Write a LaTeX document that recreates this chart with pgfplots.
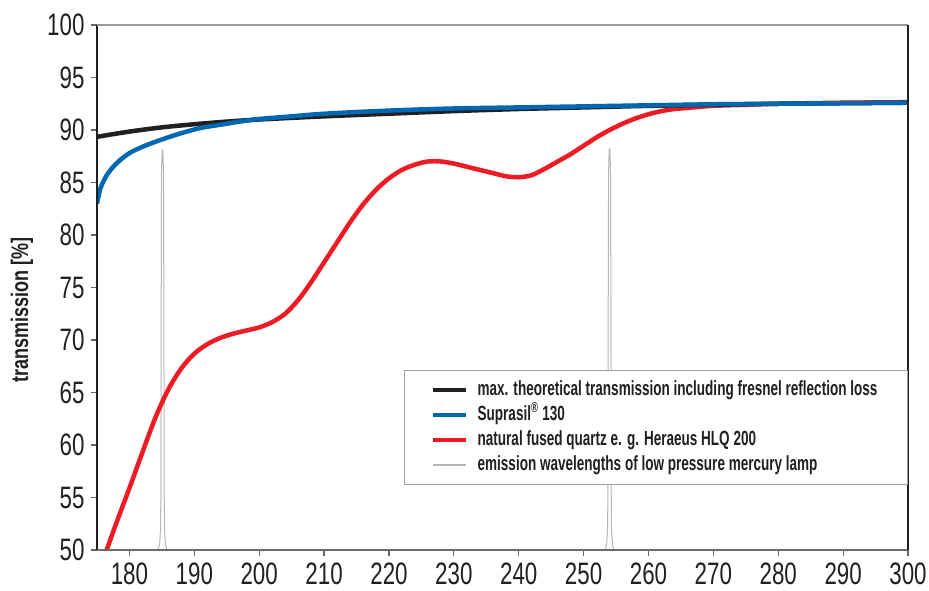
\documentclass[border=0pt]{standalone}
\usepackage{fontspec}
\setmainfont{Liberation Sans}[FakeStretch=0.66]
\newfontfamily\tickfont{Liberation Sans}[FakeStretch=0.72]
\newfontfamily\labelfont{Liberation Sans}[FakeStretch=0.75]
\usepackage{pgfplots}
\pgfplotsset{compat=1.18}

\definecolor{cblack}{HTML}{231F20}
\definecolor{cblue}{HTML}{0067B1}
\definecolor{cred}{HTML}{ED1C24}
\definecolor{cgray}{HTML}{B5B5B8}

\begin{document}
\begin{tikzpicture}
\begin{axis}[
  scale only axis,
  width=811pt, height=525pt,
  xmin=175, xmax=300, ymin=50, ymax=100,
  xtick={180,190,...,300},
  ytick={50,55,...,100},
  clip mode=individual,
  axis line style={draw=none},
  tick align=outside,
  xtick pos=left, ytick pos=left,
  major tick length=6pt,
  tick style={color=gray!80!black, line width=1.2pt},
  /pgf/number format/assume math mode=true,
  ticklabel style={font=\tickfont\fontsize{31}{31}\selectfont, text=cblack},
  yticklabel style={xshift=-3pt},
  xticklabel style={yshift=-3pt},
  ylabel={transmission [\%]},
  ylabel style={at={(axis description cs:-0.0925,0.457)}, anchor=center, rotate=0,
    font=\labelfont\bfseries\fontsize{24}{24}\selectfont, text=cblack},
  legend cell align=left,
  legend style={at={(1,0.343)}, anchor=north east, draw=gray!75, line width=1.2pt,
    fill=white, font=\bfseries\fontsize{20.5}{20.5}\selectfont, text=cblack,
    inner xsep=27pt, inner ysep=7pt, row sep=0pt, column sep=6pt,
    nodes={text height=14pt, text depth=4pt, inner ysep=3.5pt, inner xsep=3pt}},
  legend image code/.code={\draw[#1] (0pt,0pt) -- (33pt,0pt);},
]
% emission lines of the mercury lamp
\addplot[cgray, line width=1pt, forget plot] coordinates {
  (184.4,50) (184.65,50.5) (184.8,52) (184.85,56) (184.88,70) (184.95,86)
  (185.05,88.1) (185.15,88.1) (185.25,86) (185.32,70) (185.35,56) (185.4,52)
  (185.55,50.5) (185.8,50)};
\addplot[cgray, line width=1pt, forget plot] coordinates {
  (253.3,50) (253.55,50.5) (253.7,52) (253.75,56) (253.78,70) (253.85,86)
  (253.95,88.2) (254.05,88.2) (254.15,86) (254.22,70) (254.25,56) (254.3,52)
  (254.45,50.5) (254.7,50)};
% natural fused quartz
\addplot[cred, line width=4.5pt, smooth, forget plot] coordinates {
  (176.2,49.5) (178,52.6) (180,55.9) (182,59.3) (184,62.6) (186,65.3)
  (188,67.3) (190,68.7) (192,69.6) (194,70.2) (196,70.6) (198,70.9)
  (200,71.2) (202,71.7) (204,72.5) (206,73.8) (208,75.5) (210,77.4)
  (212,79.3) (214,81.2) (216,82.9) (218,84.3) (220,85.4) (222,86.2)
  (224,86.7) (226,87.0) (228,87.0) (230,86.8) (232,86.5) (234,86.2)
  (236,85.9) (238,85.6) (240,85.5) (242,85.7) (244,86.3) (246,87.0)
  (248,87.7) (250,88.5) (252,89.3) (254,90.0) (256,90.6) (258,91.1)
  (260,91.5) (262,91.8) (264,92.0) (266,92.1) (270,92.3) (275,92.4)
  (280,92.5) (290,92.6) (300,92.65)};
% max. theoretical transmission
\addplot[cblack, line width=4.5pt, smooth, forget plot] coordinates {
  (175,89.35) (180,89.85) (185,90.25) (190,90.55) (195,90.8) (200,91.0)
  (210,91.3) (220,91.55) (230,91.8) (240,92.0) (250,92.15) (260,92.3)
  (270,92.4) (280,92.5) (290,92.55) (300,92.6)};
% Suprasil 130
\addplot[cblue, line width=4.5pt, smooth, forget plot] coordinates {
  (175,83.0) (175.5,84.4) (176,85.1) (176.5,85.7) (177.5,86.5) (178.5,87.1)
  (180,87.8) (182,88.4) (185,89.1) (188,89.7) (191,90.2) (194,90.5)
  (197,90.8) (200,91.05) (205,91.3) (210,91.55) (220,91.85) (230,92.05)
  (240,92.15) (250,92.25) (260,92.35) (270,92.45) (280,92.5) (290,92.55)
  (300,92.6)};

\addlegendimage{cblack, line width=4.5pt}
\addlegendentry{max. theoretical transmission including fresnel reflection loss}
\addlegendimage{cblue, line width=4.5pt}
\addlegendentry{Suprasil\textsuperscript{®} 130}
\addlegendimage{cred, line width=4.5pt}
\addlegendentry{natural fused quartz e. g. Heraeus HLQ 200}
\addlegendimage{cgray, line width=1.2pt}
\addlegendentry{emission wavelengths of low pressure mercury lamp}

% frame
\draw[cblack, line width=1.5pt] (rel axis cs:0,0) -- (rel axis cs:0,1);
\draw[gray!85!black, line width=1.5pt] (rel axis cs:0,0) -- (rel axis cs:1,0);
\draw[gray!80, line width=1.5pt] (rel axis cs:0,1) -- (rel axis cs:1,1);
\draw[cblack, line width=1.5pt] (rel axis cs:1,0) -- (rel axis cs:1,1);
\end{axis}
\pgfresetboundingbox
\path (-97pt,-40pt) rectangle (832pt,550pt);
\end{tikzpicture}
\end{document}
